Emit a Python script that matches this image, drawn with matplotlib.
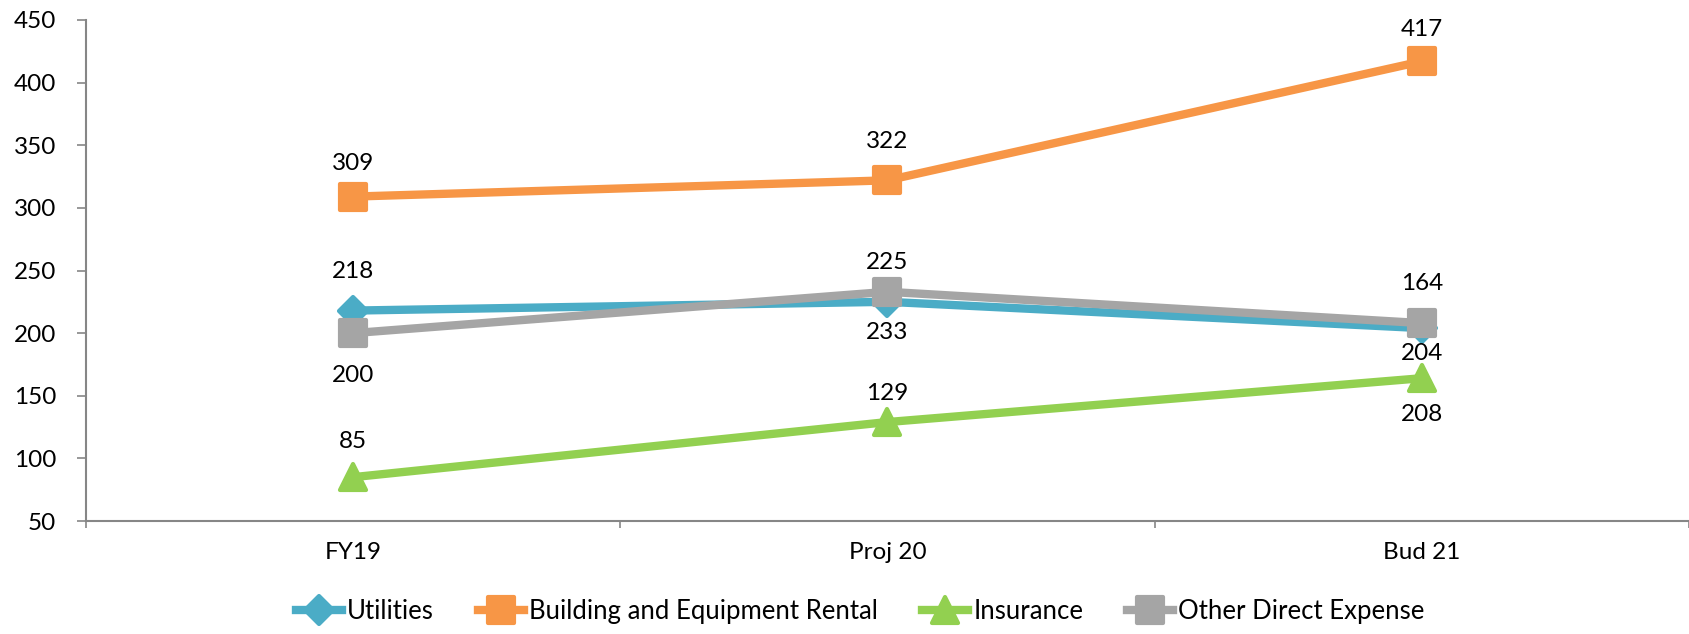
import matplotlib.pyplot as plt
from matplotlib.markers import MarkerStyle

plt.rcParams['font.family'] = ['Lato', 'DejaVu Sans']

categories = ['FY19', 'Proj 20', 'Bud 21']
utilities = [218, 225, 204]
building_rental = [309, 322, 417]
insurance = [85, 129, 164]
other_direct = [200, 233, 208]

# vertical offset of each data label from its point, in pixels
utilities_offsets = [39, 39, -25]
building_offsets = [33, 39, 32]
insurance_offsets = [36, 29, 95]
other_offsets = [-42, -41, -91]

series = [
    ('Utilities', utilities, '#4BACC6', 'D', 14, utilities_offsets),
    ('Building and Equipment Rental', building_rental, '#F79646', 's', 19, building_offsets),
    ('Insurance', insurance, '#92D050', '^', 19, insurance_offsets),
    ('Other Direct Expense', other_direct, '#A5A5A5', 's', 19, other_offsets),
]

fig = plt.figure(figsize=(16.9, 6.34), dpi=100)
ax = fig.add_axes([86 / 1690, 113 / 634, 1603 / 1690, 501 / 634])

x = list(range(len(categories)))
for name, vals, color, mk, ms, offs in series:
    ax.plot(x, vals, color=color, linewidth=6, label=name,
            marker=MarkerStyle(mk, joinstyle='round'), markersize=ms,
            markeredgewidth=3, markeredgecolor=color, markerfacecolor=color,
            solid_joinstyle='round')
    for xi, v, off in zip(x, vals, offs):
        ax.annotate(str(v), (xi, v), xytext=(0, off), textcoords='offset pixels',
                    ha='center', va='center', fontsize=17.5, color='black')

ax.set_xlim(-0.5, 2.5)
ax.set_ylim(50, 450)
ax.set_yticks(range(50, 451, 50))
ax.set_xticks(x)
ax.set_xticklabels(categories)
ax.set_xticks([-0.5, 0.5, 1.5, 2.5], minor=True)

for side in ['top', 'right']:
    ax.spines[side].set_visible(False)
for side in ['left', 'bottom']:
    ax.spines[side].set_color('#868686')
    ax.spines[side].set_linewidth(1.5)

ax.tick_params(axis='y', length=6.5, width=1.2, color='#868686', pad=15, labelsize=17.5)
ax.tick_params(axis='x', which='major', length=0, pad=15, labelsize=17.5)
ax.tick_params(axis='x', which='minor', length=5, width=1.2, color='#868686')

fig.legend(loc='center', bbox_to_anchor=(0.509, 0.036), ncol=4, frameon=False,
           fontsize=18.5, handlelength=1.8, handletextpad=0.2, columnspacing=1.7)

fig.savefig('out.png', dpi=100)
